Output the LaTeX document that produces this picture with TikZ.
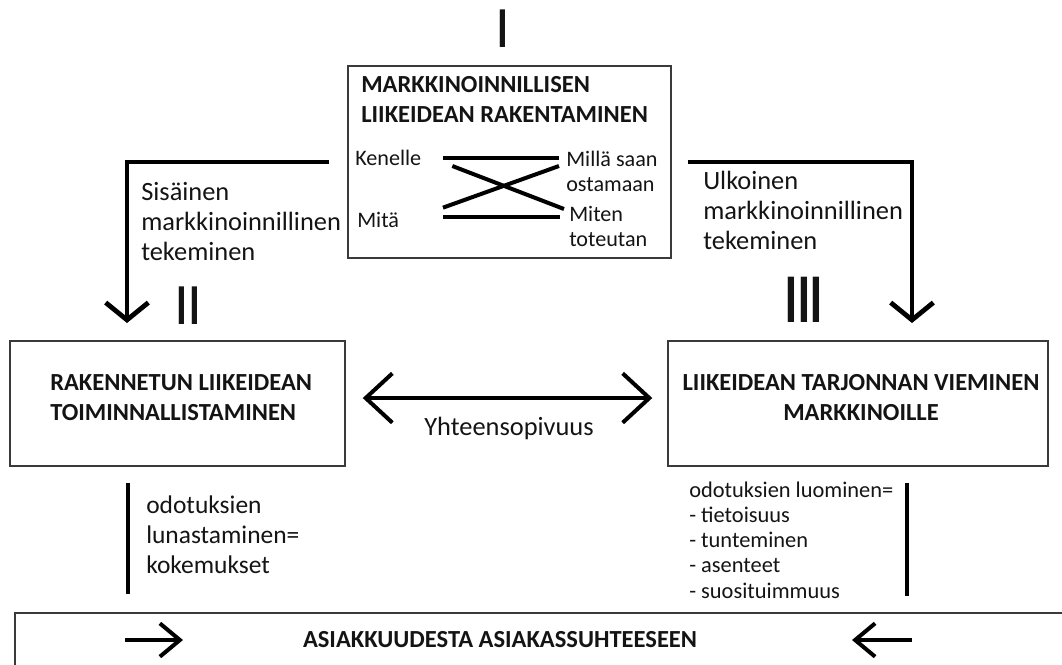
\documentclass[tikz,border=0pt]{standalone}
\usepackage{fontspec}
\setmainfont{Carlito}
\usetikzlibrary{arrows.meta}
\definecolor{ink}{HTML}{141414}
\definecolor{frame}{HTML}{3A3A3A}

\begin{document}
\begin{tikzpicture}[
 x=0.75pt,y=-0.75pt,
 head/.style={font=\bfseries\fontsize{18.4}{22.5}\selectfont,text=ink,align=center,inner sep=0pt},
 note/.style={font=\fontsize{19.8}{22.5}\selectfont,text=ink,align=left,inner sep=0pt,anchor=west},
 small/.style={font=\fontsize{16.6}{18.75}\selectfont,text=ink,align=left,inner sep=0pt,anchor=west},
 roman/.style={font=\fontsize{44}{44}\selectfont,text=ink,inner sep=0pt},
 card/.style={draw=frame,line width=1.1pt,inner sep=0pt},
 flow/.style={-{Straight Barb[length=13pt,width=32pt]},line width=3.6pt},
 bar/.style={line width=3.4pt},
 cross/.style={line width=3pt}
]
\useasboundingbox (0,0) rectangle (1062,664);
\clip (0,0) rectangle (1062,664);

% Top block.
\node[roman] (one) at (503,29) {I};
\node[card,minimum width=242.25pt,minimum height=144pt] (build) at (509.5,162) {};
\node[head,align=left,anchor=west] (buildT) at (361,99) {MARKKINOINNILLISEN\\LIIKEIDEAN RAKENTAMINEN};
\node[small] (kenelle) at (355,158) {Kenelle};
\node[small] (mita) at (357,220) {Mitä};
\node[small] (milla) at (566,171) {Millä saan\\ostamaan};
\node[small] (miten) at (569,226) {Miten\\toteutan};
\coordinate (kenR) at (443,158);
\coordinate (millaL) at (559,158);
\coordinate (mitaR) at (443,217);
\coordinate (mitenL) at (560,217);
\draw[cross] (kenR) -- (millaL);
\draw[cross] (mitaR) -- (mitenL);
\draw[cross] ([shift={(7pt,-6pt)}]kenR) -- ([shift={(3pt,6pt)}]mitenL);
\draw[cross] ([yshift=7pt]mitaR) -- ([yshift=-6pt]millaL);

% Inner branch.
\coordinate (inL) at (127,323);
\draw[flow] ([xshift=-13.5pt]build.west) -| (inL);
\node[note] (inner) at (141,222) {Sisäinen\\markkinoinnillinen\\tekeminen};
\node[roman] (two) at (188.5,306) {I\kern-1.9pt I};

% Outer branch.
\coordinate (inR) at (912,323);
\draw[flow] ([xshift=12pt]build.east) -| (inR);
\node[note] (outer) at (703,210) {Ulkoinen\\markkinoinnillinen\\tekeminen};
\node[roman,font=\fontsize{53}{53}\selectfont] (three) at (804,300) {I\kern-4pt I\kern-4pt I};

% Middle boxes.
\node[card,minimum width=251.25pt,minimum height=93.75pt] (act) at (177.5,403.5) {};
\node[head,align=left,anchor=west] (actT) at (50,398) {RAKENNETUN LIIKEIDEAN\\TOIMINNALLISTAMINEN};
\node[card,minimum width=285pt,minimum height=93.75pt] (mkt) at (858,403.5) {};
\node[head] (mktT) at (861,398) {LIIKEIDEAN TARJONNAN VIEMINEN\\MARKKINOILLE};
\draw[{Straight Barb[length=20pt,width=37pt]}-{Straight Barb[length=20pt,width=37pt]},line width=3pt]
  ([xshift=12.75pt,yshift=4.1pt]act.east) -- ([xshift=-11.25pt,yshift=4.1pt]mkt.west);
\node[note,anchor=center] (match) at (509,428) {Yhteensopivuus};

% Towards the customer.
\coordinate (keepTop) at (128,483);
\coordinate (keepEnd) at (128,594);
\draw[bar] (keepTop) -- (keepEnd);
\node[note,font=\fontsize{19.1}{22.5}\selectfont] (keep) at (146,535) {odotuksien\\lunastaminen=\\kokemukset};
\coordinate (makeTop) at (907,483);
\coordinate (makeEnd) at (907,596);
\draw[bar] (makeTop) -- (makeEnd);
\node[small,font=\fontsize{16.8}{18.9}\selectfont] (make) at (689,540) {odotuksien luominen=\\- tietoisuus\\- tunteminen\\- asenteet\\- suosituimmuus};

% Bottom block.
\node[card,minimum width=795pt,minimum height=50.25pt] (rel) at (545,646.5) {};
\node[head] (relT) at (500,640) {ASIAKKUUDESTA ASIAKASSUHTEESEEN};
\coordinate (inA) at (125,640);
\coordinate (inB) at (183,640);
\coordinate (outA) at (912,640);
\coordinate (outB) at (852,640);
\draw[-{Straight Barb[length=15pt,width=25pt]},line width=3pt] (inA) -- (inB);
\draw[-{Straight Barb[length=15pt,width=25pt]},line width=3pt] (outA) -- (outB);
\end{tikzpicture}
\end{document}
